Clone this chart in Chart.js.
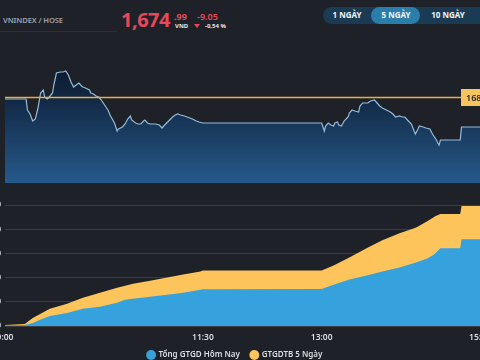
<!DOCTYPE html>
<html><head><meta charset="utf-8">
<script src="https://cdn.jsdelivr.net/npm/chart.js@4.4.0/dist/chart.umd.min.js"></script>
<style>
html,body{margin:0;padding:0;background:#1f2128;width:480px;height:360px;overflow:hidden;font-family:"Noto Sans",sans-serif;}
.abs{position:absolute;white-space:nowrap;line-height:1;}
#sym{left:3px;top:17px;font-size:7.6px;color:#9ea3ab;font-weight:600;letter-spacing:-0.1px;}
#sep{left:0;top:31px;width:117px;height:1px;background:#2d3038;}
#big{left:121px;top:10px;font-size:20px;color:#e8485b;font-weight:700;letter-spacing:-0.5px;}
#dec{left:174px;top:12px;font-size:9px;color:#e8485b;font-weight:700;}
#vnd{left:175px;top:23px;font-size:6px;color:#e8e8e8;font-weight:700;}
#chg{left:197px;top:12px;font-size:9px;color:#e8485b;font-weight:600;}
#tri{left:194px;top:24px;width:0;height:0;border-left:3.5px solid transparent;border-right:3.5px solid transparent;border-top:4px solid #e8485b;}
#pct{left:205px;top:23px;font-size:6px;color:#e8e8e8;font-weight:700;}
#grp{left:323px;top:7px;width:170px;height:17px;border-radius:9px;background:#1b3b55;}
#act{left:371px;top:7px;width:49px;height:17px;border-radius:9px;background:#2b7eab;}
.btn{top:11px;font-size:8px;color:#f2f4f6;font-weight:700;transform:translateX(-50%);}
#c1wrap{left:-40px;top:60px;width:560px;height:123px;}
#c2wrap{left:-40px;top:195px;width:560px;height:174px;}
</style></head><body>
<div class="abs" id="sym">VNINDEX / HOSE</div>
<div class="abs" id="sep"></div>
<div class="abs" id="big">1,674</div>
<div class="abs" id="dec">.99</div>
<div class="abs" id="vnd">VND</div>
<div class="abs" id="chg">-9.05</div>
<div class="abs" id="tri"></div>
<div class="abs" id="pct">-0,54 %</div>
<div class="abs" id="grp"></div>
<div class="abs" id="act"></div>
<div class="abs btn" style="left:347px">1 NGÀY</div>
<div class="abs btn" style="left:396px">5 NGÀY</div>
<div class="abs btn" style="left:448px">10 NGÀY</div>
<div class="abs" id="c1wrap"><canvas id="c1" width="560" height="123"></canvas></div>
<div class="abs" id="c2wrap"><canvas id="c2" width="560" height="174"></canvas></div>
<script>
// ---- price (top chart) ----
const priceTimes = ["09:00","09:16","09:17","09:19","09:21","09:23","09:25","09:27","09:29","09:30","09:32","09:33","09:36","09:37","09:39","09:42","09:44","09:46","09:48","09:50","09:52","09:54","09:56","09:58","09:59","10:01","10:04","10:05","10:07","10:09","10:11","10:13","10:15","10:18","10:20","10:23","10:25","10:26","10:29","10:31","10:33","10:35","10:36","10:39","10:41","10:43","10:45","10:46","10:48","10:50","10:52","10:54","10:57","10:59","11:01","11:04","11:07","11:09","11:11","11:13","11:16","11:18","11:20","11:22","11:25","11:27","11:30","13:00","13:02","13:03","13:05","13:07","13:09","13:10","13:12","13:13","13:15","13:17","13:20","13:21","13:23","13:25","13:28","13:29","13:31","13:33","13:35","13:37","13:40","13:42","13:44","13:46","13:49","13:52","13:54","13:56","13:59","14:01","14:03","14:05","14:08","14:11","14:13","14:14","14:17","14:19","14:22","14:24","14:27","14:28","14:29","14:30","14:45","14:46","15:00"];
const priceValues = [1683.44,1683.44,1680.12,1678.91,1676.80,1677.40,1680.72,1685.25,1686.15,1684.04,1683.44,1683.74,1685.25,1687.66,1691.28,1691.58,1691.58,1691.88,1690.68,1688.57,1687.06,1687.66,1688.26,1687.36,1687.06,1686.76,1686.15,1685.25,1684.95,1684.34,1684.04,1683.13,1681.93,1680.12,1678.31,1676.20,1673.78,1674.39,1674.99,1675.89,1677.40,1678.31,1677.10,1676.20,1675.89,1675.89,1676.80,1677.10,1676.20,1675.89,1675.89,1675.89,1675.59,1674.69,1675.59,1676.80,1678.01,1678.61,1678.91,1678.61,1678.31,1678.01,1677.70,1677.40,1676.80,1676.50,1676.20,1676.20,1673.78,1675.29,1676.20,1675.59,1675.29,1676.20,1676.50,1675.59,1675.29,1676.80,1678.01,1679.21,1680.12,1679.82,1679.51,1681.32,1682.23,1682.23,1682.23,1682.83,1683.13,1682.23,1681.32,1680.72,1680.12,1679.51,1678.91,1678.01,1678.31,1678.01,1678.01,1677.10,1675.89,1672.88,1674.39,1675.29,1674.99,1674.69,1674.39,1672.88,1671.07,1670.16,1669.56,1671.07,1671.07,1674.99,1674.99];
const refPrice = 1684.04;
const volTimes = ["13:02","13:10","13:20","13:30","13:40","13:50","14:00","14:05","14:10","14:15","14:20","14:25","14:28","14:46"];
const volValues = [2,2,1.5,2,1.5,2,2,3,3,5,4,6,5,45];

// ---- cumulative trading value (bottom chart) ----
const valueTimes = ["09:00","09:15","09:21","09:28","09:34","09:47","09:59","10:12","10:25","10:31","10:37","10:50","11:03","11:15","11:28","11:30","13:00","13:09","13:21","13:34","13:46","13:59","14:09","14:12","14:20","14:24","14:26","14:30","14:45","14:46","15:00"];
const todayValues = [250,250,750,1750,2500,3250,4250,4750,5750,6500,6750,7250,7750,8250,9000,9100,9200,10250,11500,12500,13500,14500,15500,15800,16750,17500,18000,19250,19250,21500,21500];
const avg5Values = [250,500,2000,3250,4250,5500,7000,8250,9500,10000,10500,11250,12000,12750,13500,13750,13750,15000,17000,19250,21250,23000,24100,24500,26000,26750,27200,27750,27750,29750,29750];
const xTickLabels = ["9:00","11:30","13:00","15:00"];
const seriesNames = ["Tổng GTGD Hôm Nay","GTGDTB 5 Ngày"];

const toMin = t => { const [h,m] = t.replace(/^0/,'').split(':').map(Number); return (h-9)*60 + m; };
const pts = (ts, vs) => ts.map((t,i) => ({x: toMin(t), y: vs[i]}));
const xTickMins = xTickLabels.map(toMin);

const refPlugin = {
  id: 'ref',
  afterDatasetsDraw(chart) {
    const {ctx, chartArea, scales} = chart;
    const y = Math.round(scales.y.getPixelForValue(refPrice)) + 0.5;
    const bx = chartArea.right - 19;
    ctx.save();
    ctx.strokeStyle = '#e8b044';
    ctx.lineWidth = 1.4;
    ctx.beginPath(); ctx.moveTo(chartArea.left, y); ctx.lineTo(bx, y); ctx.stroke();
    ctx.fillStyle = '#f7c45e';
    ctx.fillRect(bx, y - 8.5, 46, 17);
    ctx.fillStyle = '#2a2a2a';
    ctx.font = '600 9px "Noto Sans"';
    ctx.textBaseline = 'middle';
    ctx.fillText(refPrice.toFixed(2), bx + 5, y + 0.5);
    ctx.restore();
  }
};

new Chart(document.getElementById('c1'), {
  data: {
    datasets: [
      { type: 'line', data: pts(priceTimes, priceValues), borderColor: '#93bcdc', borderWidth: 1.2,
        pointRadius: 0, tension: 0, fill: 'start', yAxisID: 'y',
        backgroundColor: (c) => {
          const a = c.chart.chartArea; if (!a) return '#173456';
          const g = c.chart.ctx.createLinearGradient(0, a.top, 0, a.bottom);
          g.addColorStop(0, '#0c1625'); g.addColorStop(0.35, '#132b48'); g.addColorStop(1, '#26598b');
          return g;
        } },
      { type: 'bar', data: pts(volTimes, volValues), backgroundColor: 'rgba(150,185,220,0.35)',
        barThickness: 1, yAxisID: 'v' }
    ]
  },
  options: {
    responsive: false, animation: false, events: [],
    layout: { padding: { left: 45, right: 40, top: 0, bottom: 0 } },
    plugins: { legend: { display: false }, tooltip: { enabled: false } },
    scales: {
      x: { type: 'linear', min: 0, max: 360, offset: false, display: false },
      y: { min: 1658.1, max: 1695.2, display: false },
      v: { min: 0, max: 100, display: false }
    }
  },
  plugins: [refPlugin]
});

new Chart(document.getElementById('c2'), {
  type: 'line',
  data: {
    datasets: [
      { label: seriesNames[0], data: pts(valueTimes, todayValues), borderWidth: 0, borderColor: '#35a2dd',
        backgroundColor: '#35a2dd', fill: 'origin', pointRadius: 0, tension: 0 },
      { label: seriesNames[1], data: pts(valueTimes, avg5Values), borderWidth: 0, borderColor: '#fcc45b',
        backgroundColor: '#fcc45b', fill: 'origin', pointRadius: 0, tension: 0 }
    ]
  },
  options: {
    responsive: false, animation: false, events: [],
    layout: { padding: { left: 30, right: 40, top: 10, bottom: 0 } },
    plugins: {
      tooltip: { enabled: false },
      legend: { position: 'bottom',
        labels: { usePointStyle: true, pointStyle: 'circle', boxWidth: 7, boxHeight: 7, padding: 11,
          color: '#dcdfe3', font: { family: 'Noto Sans', size: 8, weight: '600' } } }
    },
    scales: {
      x: { type: 'linear', min: 0, max: 360, grid: { display: false, drawTicks: false }, border: { display: false },
        afterBuildTicks: s => { s.ticks = xTickMins.map(v => ({ value: v })); },
        afterFit: s => { s.height = 14; },
        ticks: { autoSkip: false, maxRotation: 0, padding: 6, color: '#dcdfe3',
          font: { family: 'Noto Sans', size: 8.5, weight: '600' },
          callback: (v) => xTickLabels[xTickMins.indexOf(v)] } },
      y: { min: 0, max: 30000, border: { display: false },
        afterFit: s => { s.width = 15; },
        grid: { color: '#3a3d45', lineWidth: 1, drawTicks: false },
        ticks: { stepSize: 6000, padding: 4, color: '#dcdfe3',
          font: { family: 'Noto Sans', size: 8.5, weight: '600' } } }
    }
  }
});
</script>
</body></html>
